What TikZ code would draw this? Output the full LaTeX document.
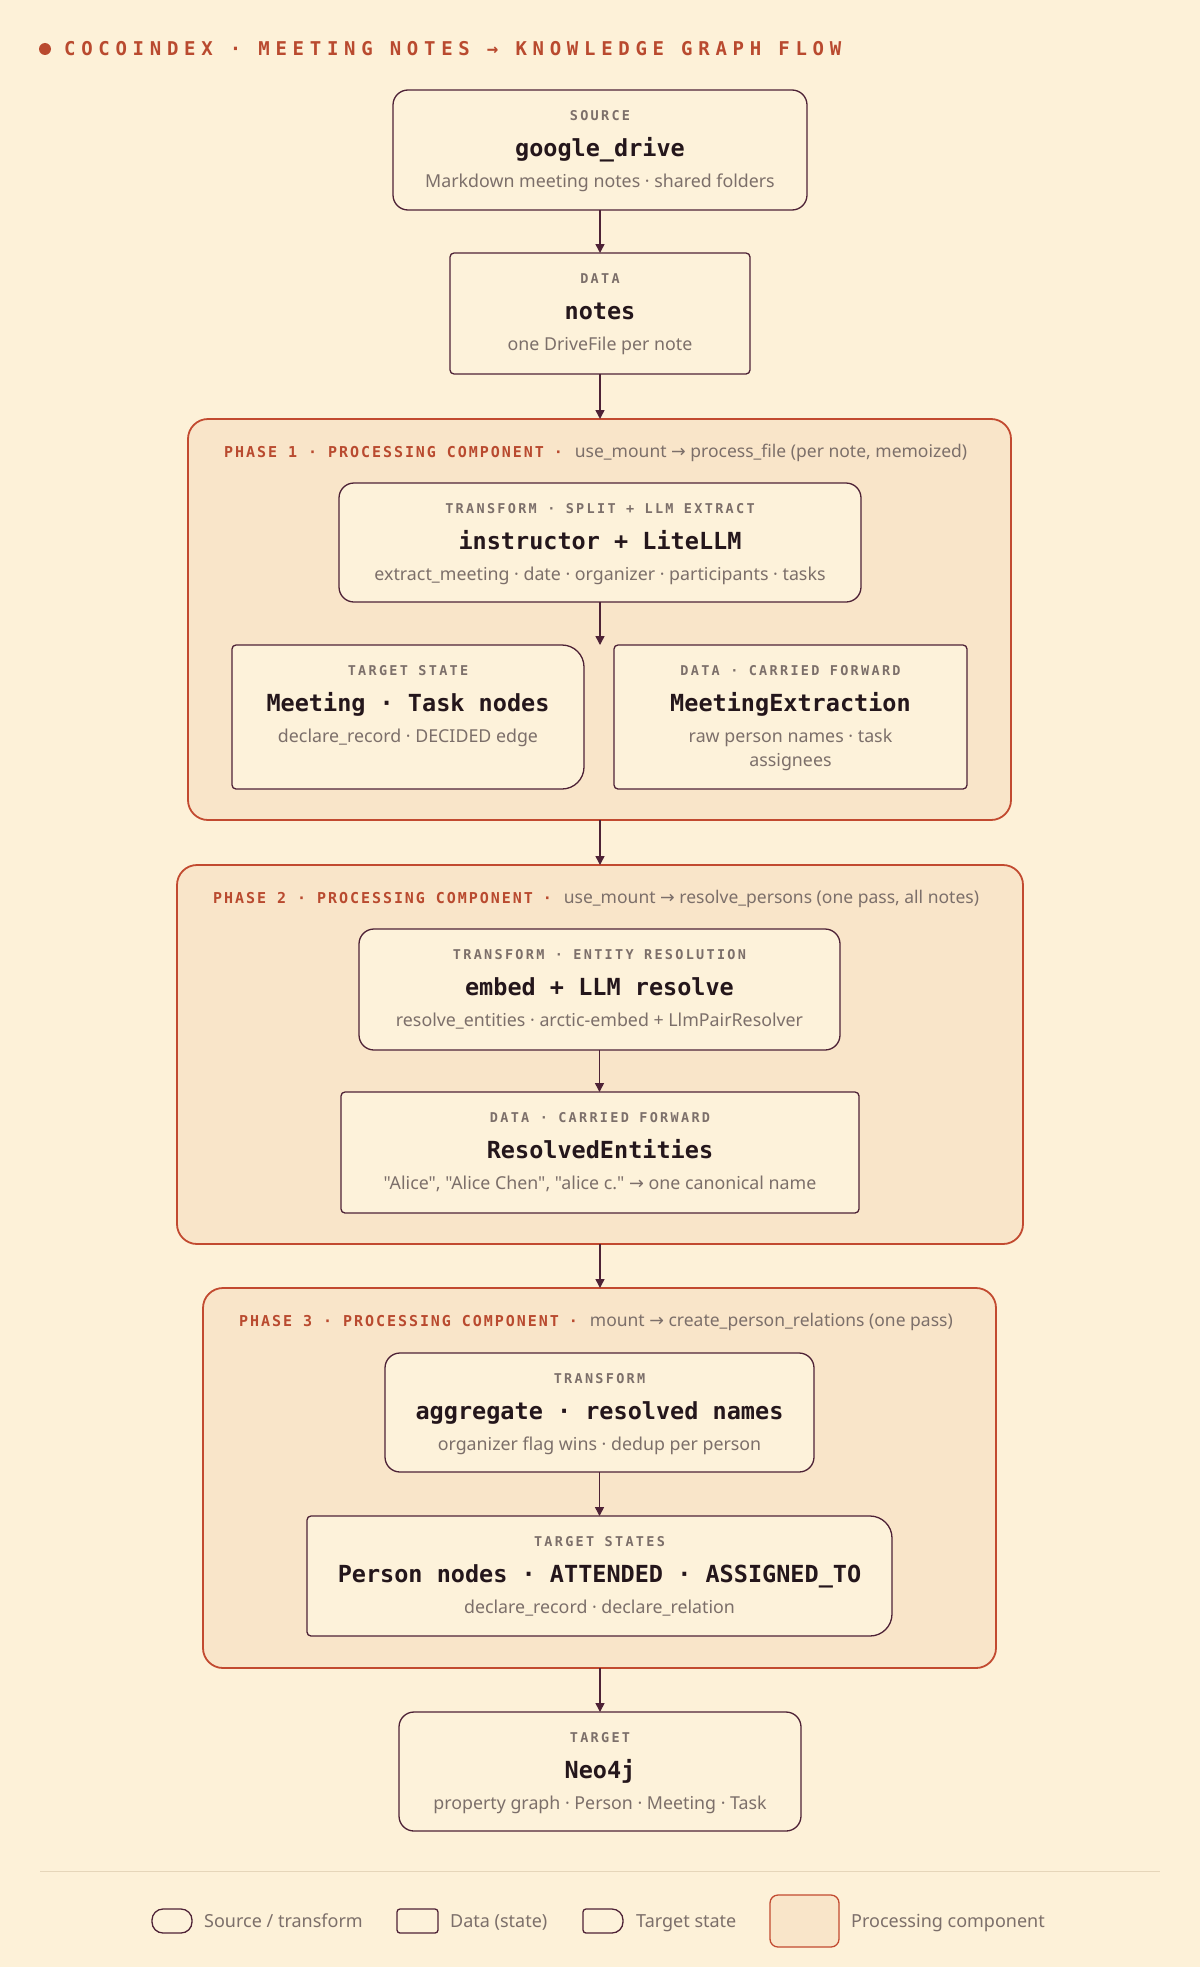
\documentclass[tikz,border=0pt]{standalone}
\usepackage{fontspec}
\usetikzlibrary{arrows.meta}
\setmainfont{Noto Sans}
\newfontfamily\subfont{Noto Sans}
\newfontfamily\arrfont{DejaVu Sans}
\newfontfamily\ttlfont{DejaVu Sans Mono}
\newfontfamily\lblfont{DejaVu Sans Mono}[LetterSpace=17]
\newfontfamily\hdrfont{DejaVu Sans Mono}[LetterSpace=30]
\newfontfamily\phfont{DejaVu Sans Mono}[LetterSpace=13]
\newcommand\myarr{{\arrfont →}}
\definecolor{bg}{HTML}{FDF1D8}
\definecolor{nodefill}{HTML}{FDF2DA}
\definecolor{phasefill}{HTML}{F9E5C9}
\definecolor{phaseline}{HTML}{C24A30}
\definecolor{plum}{HTML}{4E2236}
\definecolor{ink}{HTML}{24161B}
\definecolor{muted}{HTML}{7C6F6A}
\definecolor{accent}{HTML}{B94A2F}
\definecolor{rulecol}{HTML}{E6D6BA}
\tikzset{
  box/.style={draw=plum, line width=1.3pt, fill=nodefill, inner sep=0pt, outer sep=0pt},
  srcbox/.style={box, rounded corners=15pt},
  databox/.style={box, rounded corners=4pt},
  tgtbox/.style={inner sep=0pt, outer sep=0pt},
  tgtline/.style={draw=plum, line width=1.3pt, fill=nodefill},
  phasebox/.style={draw=phaseline, line width=1.8pt, fill=phasefill, rounded corners=20pt, inner sep=0pt, outer sep=0pt},
  lbl/.style={font=\lblfont\bfseries\fontsize{13.5}{16}\selectfont, text=muted, inner sep=0pt, anchor=base},
  ttl/.style={font=\ttlfont\bfseries\fontsize{23.5}{28}\selectfont, text=ink, inner sep=0pt, anchor=base},
  subt/.style={font=\subfont\fontsize{17.8}{21}\selectfont, text=muted, inner sep=0pt, anchor=base},
  phtitle/.style={inner sep=0pt, anchor=base west},
  legtext/.style={font=\subfont\fontsize{18}{21}\selectfont, text=muted, inner sep=0pt, anchor=base west},
  flow/.style={draw=plum, line width=1.5pt, -{Triangle[length=9pt,width=9pt]}},
}
\newcommand\tgtshape[3]{%
  \path[tgtline] ([xshift=#3]#1.north west) -- ([xshift=-#2]#1.north east)
    arc[start angle=90,end angle=0,radius=#2] -- ([yshift=#2]#1.south east)
    arc[start angle=0,end angle=-90,radius=#2] -- ([xshift=#3]#1.south west)
    arc[start angle=270,end angle=180,radius=#3] -- ([yshift=-#3]#1.north west)
    arc[start angle=180,end angle=90,radius=#3] -- cycle;}
\newcommand\boxtext[4]{%
  \node[lbl] (#1-l) at ([yshift=-30pt]#1.north) {#2};
  \node[ttl] (#1-t) at ([yshift=-66pt]#1.north) {#3};
  \node[subt] (#1-s) at ([yshift=-97pt]#1.north) {#4};}
\newcommand\phasetitle[3]{%
  \node[phtitle] (#1-h) at ([xshift=36pt,yshift=-38pt]#1.north west)
   {{\phfont\bfseries\fontsize{15}{18}\selectfont\color{accent}#2\hspace{10pt}·\hspace{12pt}}{\subfont\fontsize{17.5}{21}\selectfont\color{muted}#3}};}
\begin{document}
\begin{tikzpicture}[x=1pt,y=1pt]
\path[fill=bg] (0,0) rectangle (1200,-1967);
\useasboundingbox (0,0) rectangle (1200,-1967);

% header
\fill[accent] (45,-49) circle[radius=6pt];
\node[inner sep=0pt, anchor=base west, font=\hdrfont\bfseries\fontsize{19}{23}\selectfont, text=accent] (hdr) at (64,-56) {COCOINDEX · MEETING NOTES → KNOWLEDGE GRAPH FLOW};

% source and notes
\node[srcbox, minimum width=414pt, minimum height=120pt] (src) at (600,-150) {};
\boxtext{src}{SOURCE}{google\_drive}{Markdown meeting notes · shared folders}
\node[databox, minimum width=300pt, minimum height=121pt] (notes) at (600,-313.5) {};
\boxtext{notes}{DATA}{notes}{one DriveFile per note}

% phase 1
\node[phasebox, minimum width=823pt, minimum height=401pt] (ph1) at (599.5,-619.5) {};
\phasetitle{ph1}{PHASE 1 · PROCESSING COMPONENT}{use\_mount \myarr{} process\_file (per note, memoized)}
\node[srcbox, minimum width=522pt, minimum height=119pt] (t1) at (600,-542.5) {};
\boxtext{t1}{TRANSFORM · SPLIT + LLM EXTRACT}{instructor + LiteLLM}{extract\_meeting · date · organizer · participants · tasks}
\node[tgtbox, minimum width=352pt, minimum height=144pt] (mt) at (408,-717) {};
\tgtshape{mt}{22pt}{4pt}
\boxtext{mt}{TARGET STATE}{Meeting · Task nodes}{declare\_record · DECIDED edge}
\node[databox, minimum width=353pt, minimum height=144pt] (me) at (790.5,-717) {};
\node[lbl] (me-l) at ([yshift=-30pt]me.north) {DATA · CARRIED FORWARD};
\node[ttl] (me-t) at ([yshift=-66pt]me.north) {MeetingExtraction};
\node[subt] (me-s) at ([yshift=-97pt]me.north) {raw person names · task};
\node[subt] (me-s2) at ([yshift=-121pt]me.north) {assignees};
\coordinate (split) at (600,-645);

% phase 2
\node[phasebox, minimum width=846pt, minimum height=379pt] (ph2) at (600,-1054.5) {};
\phasetitle{ph2}{PHASE 2 · PROCESSING COMPONENT}{use\_mount \myarr{} resolve\_persons (one pass, all notes)}
\node[srcbox, minimum width=481pt, minimum height=121pt] (t2) at (599.5,-989.5) {};
\boxtext{t2}{TRANSFORM · ENTITY RESOLUTION}{embed + LLM resolve}{resolve\_entities · arctic-embed + LlmPairResolver}
\node[databox, minimum width=518pt, minimum height=121pt] (res) at (600,-1152.5) {};
\boxtext{res}{DATA · CARRIED FORWARD}{ResolvedEntities}{"Alice", "Alice Chen", "alice c." \myarr{} one canonical name}

% phase 3
\node[phasebox, minimum width=793pt, minimum height=380pt] (ph3) at (599.5,-1478) {};
\phasetitle{ph3}{PHASE 3 · PROCESSING COMPONENT}{mount \myarr{} create\_person\_relations (one pass)}
\node[srcbox, minimum width=429pt, minimum height=119pt] (t3) at (599.5,-1412.5) {};
\boxtext{t3}{TRANSFORM}{aggregate · resolved names}{organizer flag wins · dedup per person}
\node[tgtbox, minimum width=585pt, minimum height=120pt] (ts) at (599.5,-1576) {};
\tgtshape{ts}{22pt}{4pt}
\boxtext{ts}{TARGET STATES}{Person nodes · ATTENDED · ASSIGNED\_TO}{declare\_record · declare\_relation}

% target
\node[srcbox, minimum width=402pt, minimum height=119pt] (neo) at (600,-1771.5) {};
\boxtext{neo}{TARGET}{Neo4j}{property graph · Person · Meeting · Task}

% connectors
\draw[flow] (src.south) -- (notes.north);
\draw[flow] (notes.south) -- (notes.south |- ph1.north);
\draw[flow] (t1.south) -- (split);
\draw[flow] (ph1.south -| t1.south) -- (ph2.north -| t1.south);
\draw[flow] (t2.south) -- (res.north -| t2.south);
\draw[flow] (ph2.south -| t1.south) -- (ph3.north -| t1.south);
\draw[flow] (t3.south) -- (ts.north);
\draw[flow] (ph3.south -| neo.north) -- (neo.north);

% legend
\draw[rulecol, line width=1pt] (40,-1871) coordinate (r1) -- (1160,-1871) coordinate (r2);
\node[srcbox, rounded corners=11pt, minimum width=40pt, minimum height=24pt] (legsrc) at (172,-1921) {};
\node[legtext] (legsrc-t) at (204,-1927) {Source / transform};
\node[databox, rounded corners=3pt, minimum width=41pt, minimum height=24pt] (legdata) at (417.5,-1921) {};
\node[legtext] (legdata-t) at (450,-1927) {Data (state)};
\node[tgtbox, minimum width=40pt, minimum height=24pt] (legtgt) at (603,-1921) {};
\tgtshape{legtgt}{11pt}{3pt}
\node[legtext] (legtgt-t) at (636,-1927) {Target state};
\node[phasebox, line width=1.3pt, rounded corners=8pt, minimum width=69pt, minimum height=52pt] (legproc) at (804.5,-1921) {};
\node[legtext] (legproc-t) at (851,-1927) {Processing component};
\end{tikzpicture}
\end{document}
